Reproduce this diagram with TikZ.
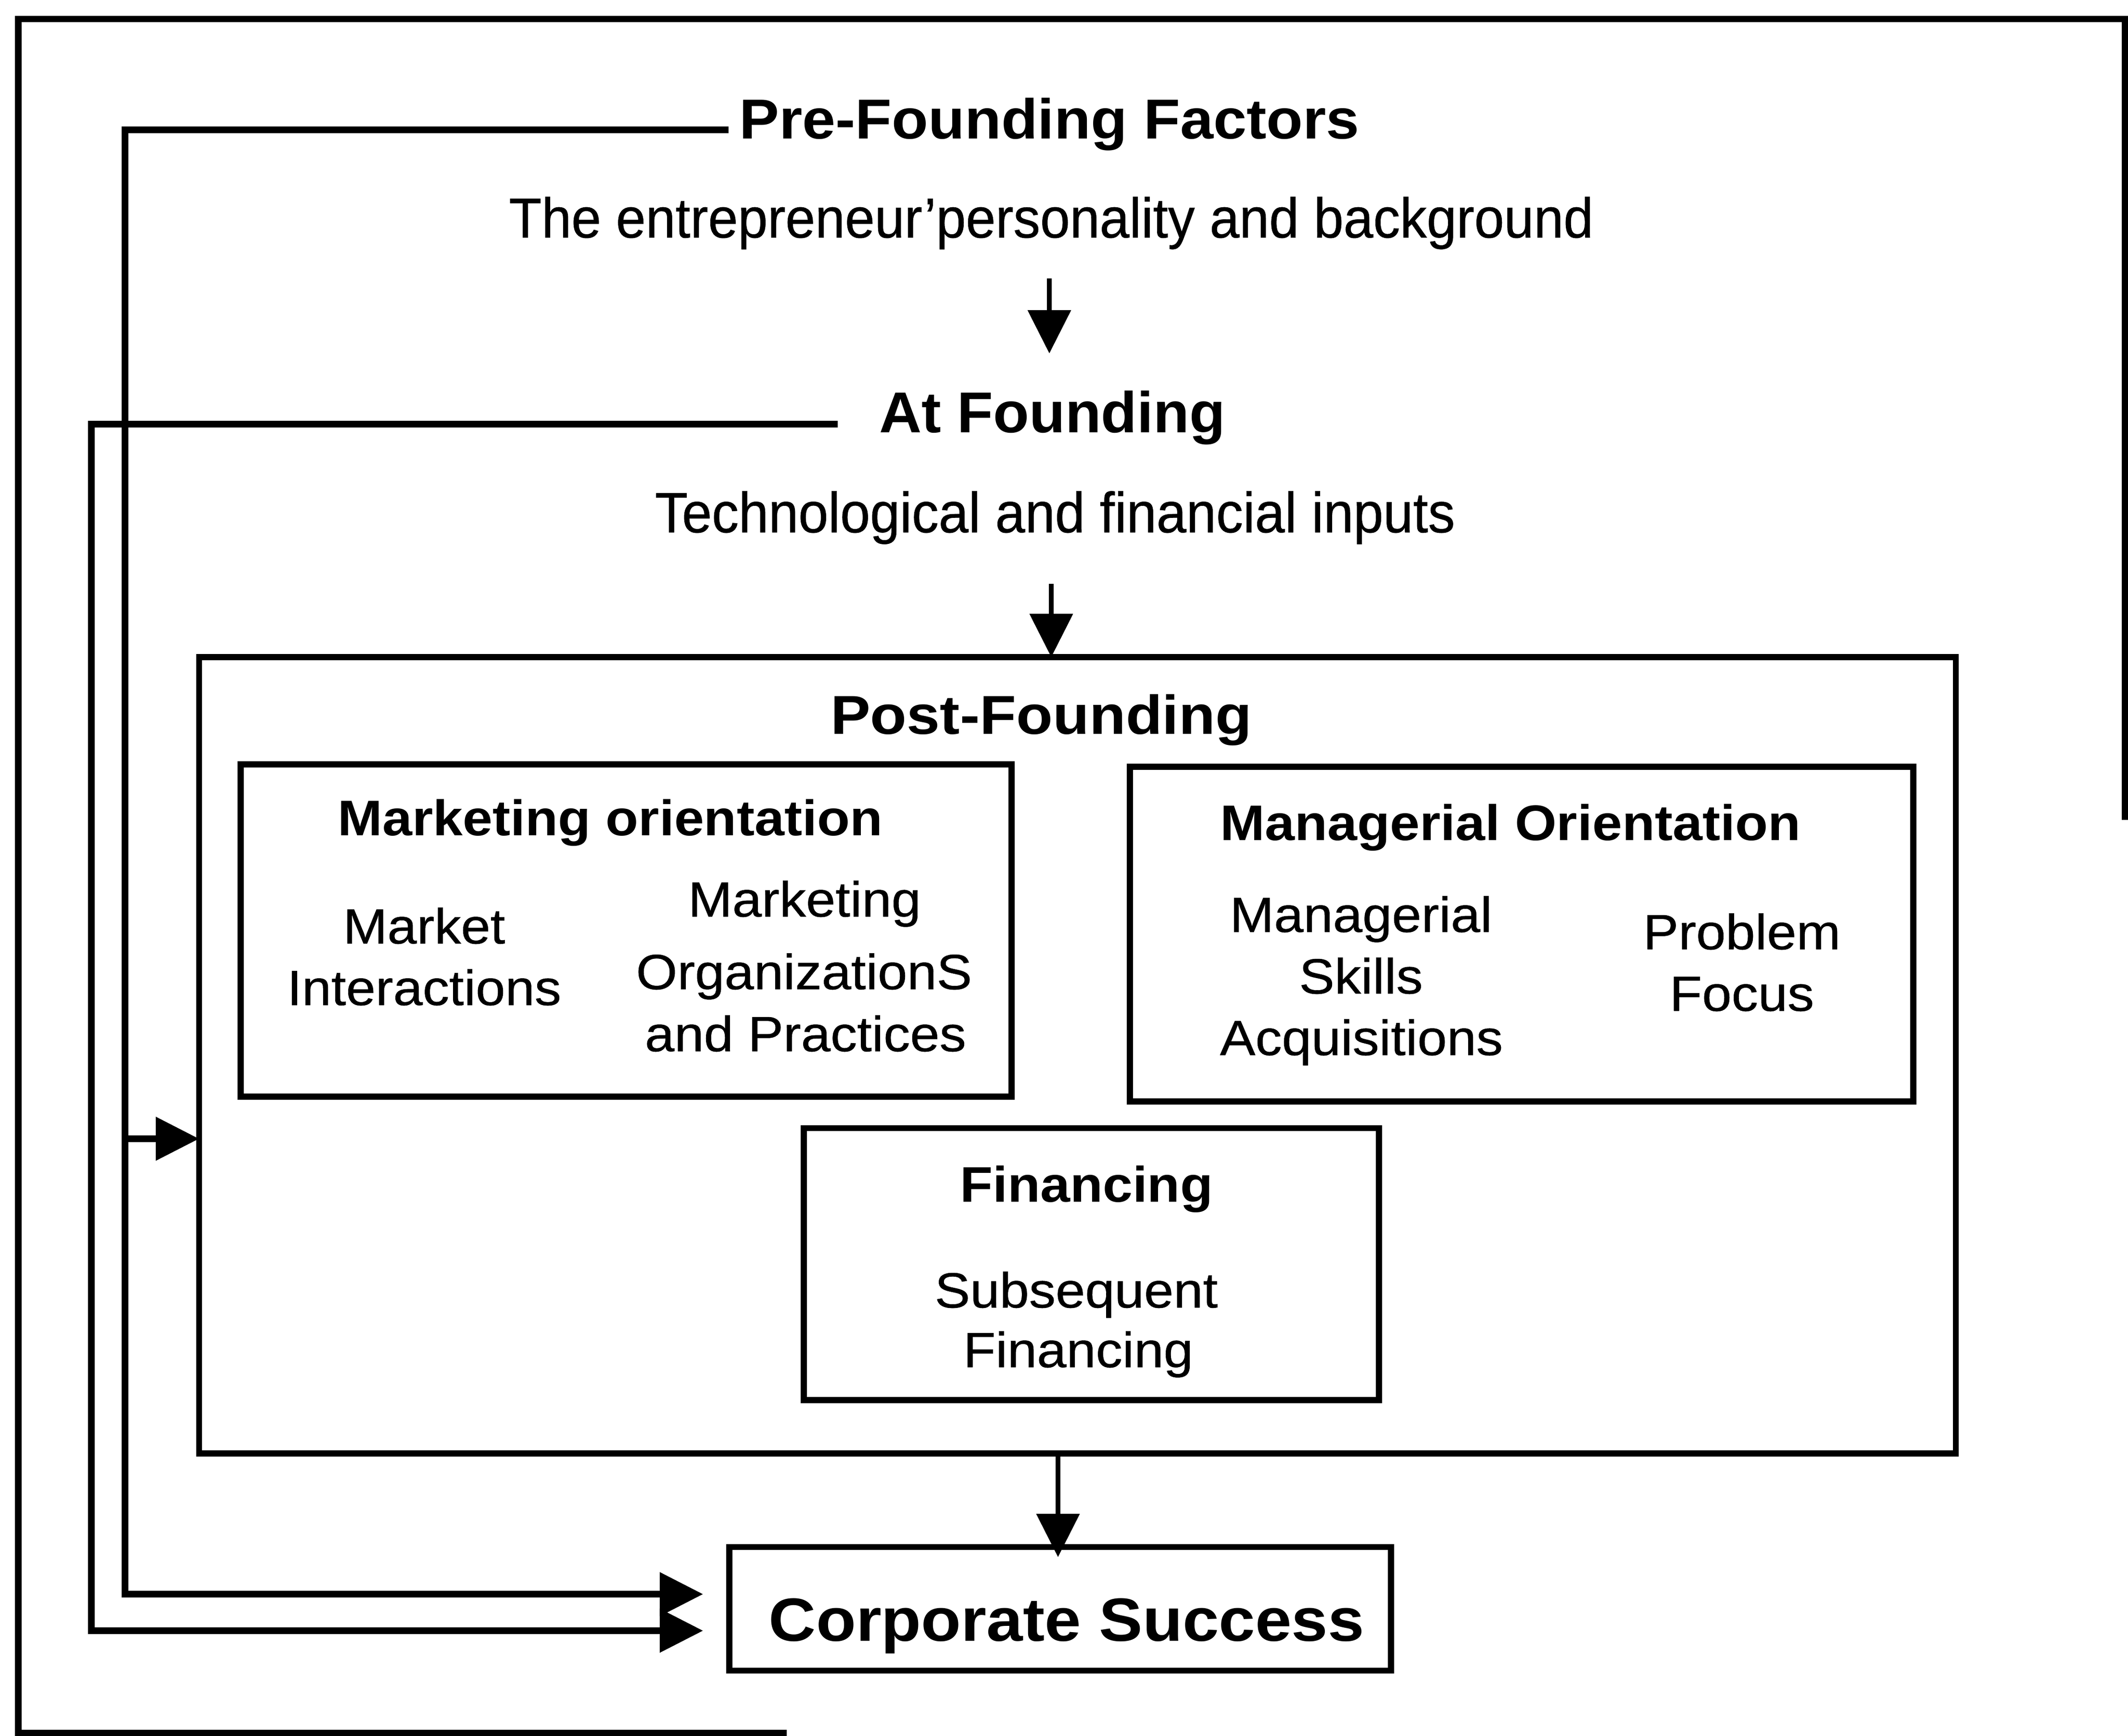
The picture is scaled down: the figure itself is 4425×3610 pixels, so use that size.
\documentclass[tikz,border=0pt]{standalone}
\usepackage{fontspec}
\setmainfont{Liberation Sans}
\newfontfamily\fTop[FakeStretch=0.95,FakeBold=0.6]{Liberation Sans}
\newfontfamily\fTech[FakeStretch=0.945,FakeBold=0.6]{Liberation Sans}
\newfontfamily\fBox[FakeStretch=1.07,FakeBold=0.6]{Liberation Sans}
\newfontfamily\fBoldA[FakeStretch=1.06]{Liberation Sans Bold}
\newfontfamily\fBoldB[FakeStretch=1.02]{Liberation Sans Bold}
\newfontfamily\fBoldC[FakeStretch=1.09]{Liberation Sans Bold}
\newfontfamily\fBold[FakeStretch=1.07]{Liberation Sans Bold}
\usetikzlibrary{arrows.meta}
\begin{document}
\begin{tikzpicture}[x=0.01cm,y=-0.01cm,
  lbl/.style={anchor=base, inner sep=0pt, outer sep=0pt},
  boxtitle/.style={lbl, font=\fBold\fontsize{29.6pt}{34pt}\selectfont},
  boxtext/.style={lbl, font=\fBox\fontsize{29.3pt}{34pt}\selectfont},
  framebox/.style={draw, line width=3.6pt, inner sep=0pt, outer sep=0pt},
  frameline/.style={line width=3.7pt, line join=miter},
  conn/.style={line width=3.8pt, line join=miter},
  thinconn/.style={line width=3pt},
  arrhead/.style={-{Triangle[length=0.9cm,width=0.88cm]}}
]
\useasboundingbox (0,0) rectangle (4425,3610);

% outer frame (as printed: partly cut off)
\draw[frameline] (1636,3603) -- (38,3603) -- (38,40) -- (4418,40) -- (4418,1705);

% headings and texts
\node[lbl, font=\fBoldA\fontsize{33.3pt}{40pt}\selectfont] (pref) at (2182,289) {Pre-Founding Factors};
\node[lbl, font=\fTop\fontsize{33.3pt}{40pt}\selectfont] (entr) at (2186,494) {The entrepreneur’personality and background};
\node[lbl, font=\fBoldB\fontsize{34.1pt}{40pt}\selectfont] (atf) at (2188,900) {At Founding};
\node[lbl, font=\fTech\fontsize{33.6pt}{40pt}\selectfont] (tech) at (2194,1107) {Technological and financial inputs};

% boxes
\node[framebox, minimum width=36.51cm, minimum height=16.55cm] (post) at (2240.5,2194.5) {};
\node[framebox, minimum width=16.02cm, minimum height=6.90cm] (mkt) at (1302,1935) {};
\node[framebox, minimum width=16.28cm, minimum height=6.95cm] (mgr) at (3164,1942.5) {};
\node[framebox, minimum width=11.95cm, minimum height=5.65cm] (fin) at (2269.5,2628.5) {};
\node[framebox, minimum width=13.75cm, minimum height=2.57cm] (cs) at (2204.5,3345.5) {};

\node[lbl, font=\fBoldC\fontsize{32.4pt}{38pt}\selectfont] (postt) at (2165,1526) {Post-Founding};

\node[boxtitle] (mktt) at (1269,1737) {Marketing orientation};
\node[boxtext] (mk1) at (882,1962) {Market};
\node[boxtext] (mk2) at (882,2090) {Interactions};
\node[boxtext] (mo1) at (1673,1906) {Marketing};
\node[boxtext] (mo2) at (1672,2057) {OrganizationS};
\node[boxtext] (mo3) at (1675,2186) {and Practices};

\node[boxtitle] (mgrt) at (3141,1747) {Managerial Orientation};
\node[boxtext] (ms1) at (2830,1938) {Managerial};
\node[boxtext] (ms2) at (2830,2066) {Skills};
\node[boxtext] (ms3) at (2831,2194) {Acquisitions};
\node[boxtext] (pf1) at (3622,1974) {Problem};
\node[boxtext] (pf2) at (3622,2102) {Focus};

\node[boxtitle] (fint) at (2259,2499) {Financing};
\node[boxtext] (sf1) at (2238,2719) {Subsequent};
\node[boxtext] (sf2) at (2242,2843) {Financing};

\node[lbl, font=\fBold\fontsize{36.1pt}{42pt}\selectfont] (cst) at (2218,3412) {Corporate Success};

% connector points
\coordinate (a1s) at (2182,579);
\coordinate (a1e) at (2182,735);
\coordinate (a2s) at (2186,1214);
\coordinate (a3s) at (2200,3022);
\coordinate (a3e) at (2200,3238);
\coordinate (pfStart) at (1515,270);
\coordinate (pfCorner) at (260,270);
\coordinate (pfBranch) at (260,2368);
\coordinate (pfBottom) at (260,3315);
\coordinate (csIn1) at (1462,3315);
\coordinate (afStart) at (1742,882);
\coordinate (afCorner) at (190,882);
\coordinate (afBottom) at (190,3391);
\coordinate (csIn2) at (1462,3391);

% vertical flow arrows
\draw[thinconn, arrhead] (a1s) -- (a1e);
\draw[thinconn, arrhead] (a2s) -- (a2s |- post.north);
\draw[thinconn, arrhead] (a3s) -- (a3e);

% feedback lines
\draw[conn, arrhead] (pfStart) -- (pfCorner) -- (pfBottom) -- (csIn1);
\draw[conn, arrhead] (pfBranch) -- (pfBranch -| post.west);
\draw[conn, arrhead] (afStart) -- (afCorner) -- (afBottom) -- (csIn2);
\end{tikzpicture}
\end{document}
